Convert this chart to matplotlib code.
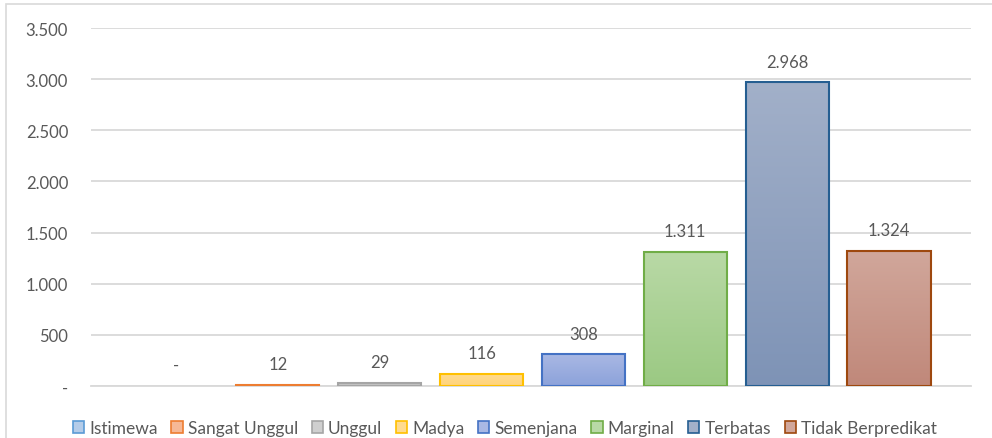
import numpy as np
import matplotlib
matplotlib.use("Agg")
import matplotlib.pyplot as plt
from matplotlib.colors import LinearSegmentedColormap
from matplotlib.patches import Patch, Rectangle
from matplotlib.ticker import FuncFormatter

plt.rcParams['font.family'] = ['Lato', 'DejaVu Sans']

# Data
categories = ["Istimewa", "Sangat Unggul", "Unggul", "Madya", "Semenjana",
              "Marginal", "Terbatas", "Tidak Berpredikat"]
values = [0, 12, 29, 116, 308, 1311, 2968, 1324]

# Colours per bar: gradient top, gradient bottom, edge
top_colors = ["#b4cce9", "#f6b896", "#cfcfcf", "#ffdb8f", "#a9b8e4",
              "#b9d9a6", "#a2b0c9", "#d1a79b"]
bottom_colors = ["#8fb4e0", "#f09c6c", "#b9b9b9", "#ffd37a", "#8ca2da",
                 "#9bc983", "#7e93b6", "#c0887a"]
edge_colors = ["#5b9bd5", "#ed7d31", "#a5a5a5", "#ffc000", "#4472c4",
               "#70ad47", "#255e91", "#9e480e"]

text_color = "#595959"
grid_color = "#d9d9d9"


def fmt_thousands(v):
    # Format Indonesia: titik sebagai pemisah ribuan, nol sebagai "-"
    if v == 0:
        return "-"
    return f"{int(round(v)):,}".replace(",", ".")


fig = plt.figure(figsize=(9.92, 4.39), dpi=100)
ax = fig.add_axes([91 / 992, 52 / 439, 880 / 992, 358 / 439])

# chart border
fig.patches.append(Rectangle((6 / 992, -0.05), 1.2, (434 / 439) + 0.05,
                             transform=fig.transFigure, fill=False,
                             edgecolor=grid_color, linewidth=1.2))

x = np.arange(len(categories))
bars = ax.bar(x, values, width=0.815, facecolor="none", linewidth=1.5,
              zorder=3)

gradient = np.linspace(0, 1, 256).reshape(-1, 1)
for bar, top, bot, edge in zip(bars, top_colors, bottom_colors, edge_colors):
    h = bar.get_height()
    if h <= 0:
        bar.set_visible(False)
        continue
    bar.set_edgecolor(edge)
    cmap = LinearSegmentedColormap.from_list("g", [bot, top])
    x0 = bar.get_x()
    im = ax.imshow(gradient, cmap=cmap, aspect="auto", origin="lower",
                   extent=(x0, x0 + bar.get_width(), 0, h), zorder=2)
    im.set_clip_path(bar)

# data labels
for xi, v in zip(x, values):
    ax.annotate(fmt_thousands(v), (xi, v), xytext=(0, 15),
                textcoords="offset points", ha="center", va="center",
                fontsize=12, color=text_color)

ax.set_xlim(-0.834, 7.805)
ax.set_ylim(0, 3500)
ax.set_yticks(np.arange(0, 3501, 500))
ax.yaxis.set_major_formatter(FuncFormatter(lambda v, p: fmt_thousands(v)))
ax.set_xticks([])
ax.tick_params(axis="y", length=0, pad=16.5, labelsize=12, labelcolor=text_color)
ax.grid(axis="y", color=grid_color, linewidth=1.3, zorder=0)
ax.set_axisbelow(True)
for s in ["top", "right", "left"]:
    ax.spines[s].set_visible(False)
ax.spines["bottom"].set_color(grid_color)
ax.spines["bottom"].set_linewidth(1.3)

handles = [Patch(facecolor=t, edgecolor=e, linewidth=1.2)
           for t, e in zip(top_colors, edge_colors)]
fig.legend(handles, categories, loc="center", bbox_to_anchor=(0.509, 10 / 439),
           ncol=8, frameon=False, fontsize=12.5, labelcolor=text_color,
           handlelength=0.65, handleheight=0.65, handletextpad=0.3,
           columnspacing=0.78, borderaxespad=0)

fig.savefig("out.png", dpi=100)
